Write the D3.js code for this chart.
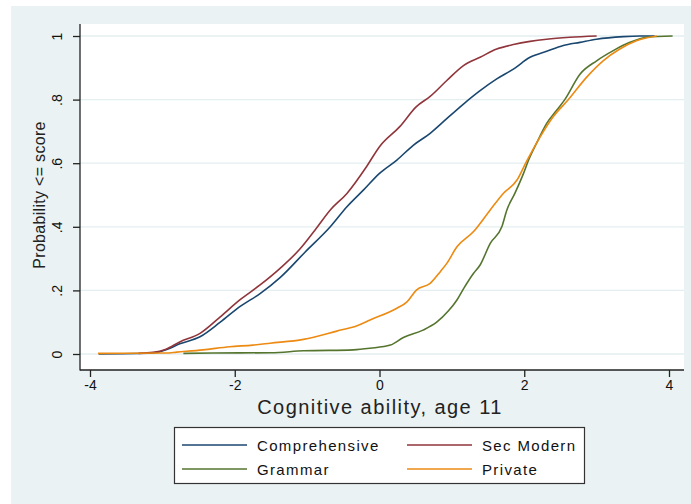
<!DOCTYPE html>
<html>
<head>
<meta charset="utf-8">
<script src="https://cdn.jsdelivr.net/npm/d3@7"></script>
<style>
  html, body { margin: 0; padding: 0; background: #ffffff; }
  svg { display: block; font-family: "Liberation Sans", Arial, sans-serif; }
</style>
</head>
<body>
<svg id="chart" width="691" height="504"></svg>
<script>
// Empirical cumulative distributions of age-11 cognitive ability by school type
const comprehensiveX = [-3.88, -3.13, -2.95, -2.76, -2.48, -2.20, -1.93, -1.65, -1.37, -1.03, -0.68, -0.45, -0.22, 0.00, 0.24, 0.47, 0.70, 0.86, 1.16, 1.39, 1.62, 1.85, 2.08, 2.31, 2.54, 2.77, 3.00, 3.37, 3.60, 3.80];
const comprehensiveP = [0.000, 0.003, 0.013, 0.032, 0.054, 0.100, 0.149, 0.190, 0.241, 0.320, 0.400, 0.463, 0.516, 0.568, 0.610, 0.657, 0.694, 0.726, 0.786, 0.828, 0.865, 0.896, 0.933, 0.952, 0.970, 0.980, 0.990, 0.998, 1.000, 1.000];

const secModernX = [-3.33, -3.13, -2.95, -2.76, -2.48, -2.20, -1.93, -1.65, -1.37, -1.10, -0.89, -0.68, -0.45, -0.18, 0.00, 0.28, 0.51, 0.70, 0.93, 1.16, 1.39, 1.62, 1.85, 2.08, 2.31, 2.63, 3.00];
const secModernP = [0.002, 0.005, 0.015, 0.038, 0.065, 0.117, 0.170, 0.217, 0.270, 0.330, 0.390, 0.453, 0.505, 0.589, 0.652, 0.715, 0.778, 0.810, 0.860, 0.907, 0.933, 0.959, 0.973, 0.983, 0.990, 0.996, 1.000];

const grammarX = [-2.71, -2.30, -1.50, -1.05, -0.36, -0.13, 0.15, 0.33, 0.60, 0.79, 0.95, 1.07, 1.16, 1.30, 1.39, 1.53, 1.69, 1.76, 1.87, 1.99, 2.06, 2.17, 2.31, 2.45, 2.56, 2.77, 3.00, 3.23, 3.46, 3.69, 4.05];
const grammarP = [0.002, 0.003, 0.004, 0.010, 0.013, 0.018, 0.028, 0.052, 0.075, 0.100, 0.135, 0.170, 0.205, 0.254, 0.280, 0.348, 0.400, 0.453, 0.505, 0.568, 0.610, 0.663, 0.725, 0.767, 0.800, 0.880, 0.922, 0.954, 0.980, 0.996, 1.000];

const privateX = [-3.89, -2.95, -2.80, -2.44, -2.07, -1.75, -1.51, -1.05, -0.59, -0.31, -0.13, 0.24, 0.38, 0.51, 0.70, 0.84, 0.93, 1.07, 1.30, 1.53, 1.71, 1.90, 2.03, 2.22, 2.40, 2.61, 2.86, 3.09, 3.32, 3.55, 3.83];
const privateP = [0.002, 0.003, 0.006, 0.013, 0.023, 0.028, 0.034, 0.046, 0.072, 0.089, 0.107, 0.144, 0.164, 0.201, 0.222, 0.259, 0.285, 0.337, 0.385, 0.453, 0.505, 0.547, 0.605, 0.683, 0.746, 0.800, 0.870, 0.922, 0.959, 0.985, 1.000];

const seriesNames = ["Comprehensive", "Sec Modern", "Grammar", "Private"];
const seriesColors = ["#1a476f", "#90353b", "#55752f", "#ec8a12"];

const xTicks = [-4, -2, 0, 2, 4];
const xTickLabels = ["-4", "-2", "0", "2", "4"];
const yTicks = [0, 0.2, 0.4, 0.6, 0.8, 1];
const yTickLabels = ["0", ".2", ".4", ".6", ".8", "1"];

const xTitle = "Cognitive ability, age 11";
const yTitle = "Probability <= score";

const seriesData = [
  d3.zip(comprehensiveX, comprehensiveP),
  d3.zip(secModernX, secModernP),
  d3.zip(grammarX, grammarP),
  d3.zip(privateX, privateP)
];

const svg = d3.select("#chart");
const W = 691, H = 504;

// Graph region background
svg.append("rect").attr("x", 11).attr("y", 6).attr("width", W - 11).attr("height", H - 6)
  .attr("fill", "#eaf2f3");

// Plot region
const plot = { left: 80, right: 684, top: 24, bottom: 370 };
svg.append("rect")
  .attr("x", plot.left).attr("y", plot.top)
  .attr("width", plot.right - plot.left).attr("height", plot.bottom - plot.top)
  .attr("fill", "#ffffff");

const x = d3.scaleLinear().domain([-4, 4]).range([90, 669]);
const y = d3.scaleLinear().domain([0, 1]).range([354, 36]);

// Horizontal grid lines
svg.append("g").selectAll("line").data(yTicks).join("line")
  .attr("x1", plot.left).attr("x2", plot.right)
  .attr("y1", d => y(d)).attr("y2", d => y(d))
  .attr("stroke", "#e4eef0").attr("stroke-width", 1.3);

// Curves
const line = d3.line().x(d => x(d[0])).y(d => y(d[1])).curve(d3.curveMonotoneX);
svg.append("g").selectAll("path").data(seriesData).join("path")
  .attr("d", line)
  .attr("fill", "none")
  .attr("stroke", (d, i) => seriesColors[i])
  .attr("stroke-width", 1.6)
  .attr("stroke-linejoin", "round");

// Axis lines
svg.append("line").attr("x1", plot.left).attr("x2", plot.left)
  .attr("y1", plot.top).attr("y2", plot.bottom + 0.5)
  .attr("stroke", "#222").attr("stroke-width", 1.3);
svg.append("line").attr("x1", plot.left).attr("x2", plot.right)
  .attr("y1", plot.bottom).attr("y2", plot.bottom)
  .attr("stroke", "#222").attr("stroke-width", 1.3);

// X axis ticks and labels
const xAxis = d3.axisBottom(x).tickValues(xTicks)
  .tickFormat((d, i) => xTickLabels[i]).tickSize(7).tickPadding(3);
const gx = svg.append("g").attr("transform", `translate(0,${plot.bottom})`).call(xAxis);
gx.select(".domain").remove();
gx.selectAll(".tick line").attr("stroke", "#222").attr("stroke-width", 1.3);
gx.selectAll(".tick text").attr("fill", "#111").attr("font-size", 14)
  .attr("font-family", "Liberation Sans, Arial, sans-serif");

// Y axis ticks and rotated labels
const yAxis = d3.axisLeft(y).tickValues(yTicks)
  .tickFormat((d, i) => yTickLabels[i]).tickSize(7);
const gy = svg.append("g").attr("transform", `translate(${plot.left},0)`).call(yAxis);
gy.select(".domain").remove();
gy.selectAll(".tick line").attr("stroke", "#222").attr("stroke-width", 1.3);
gy.selectAll(".tick text")
  .attr("fill", "#111").attr("font-size", 14)
  .attr("font-family", "Liberation Sans, Arial, sans-serif")
  .attr("x", null).attr("dy", null)
  .attr("text-anchor", "middle")
  .attr("transform", "translate(-18,0) rotate(-90)");

// Axis titles
svg.append("text").attr("x", 380).attr("y", 414)
  .attr("text-anchor", "middle").attr("font-size", 20)
  .attr("letter-spacing", 1.45).attr("fill", "#222")
  .text(xTitle);
svg.append("text")
  .attr("transform", "translate(45,195) rotate(-90)")
  .attr("text-anchor", "middle").attr("font-size", 16)
  .attr("letter-spacing", 0.3).attr("fill", "#222")
  .text(yTitle);

// Legend
const legend = svg.append("g");
legend.append("rect").attr("x", 174.5).attr("y", 427.5).attr("width", 410).attr("height", 56)
  .attr("fill", "#ffffff").attr("stroke", "#333").attr("stroke-width", 1.2);
const legendPos = [
  { lx: 182, ty: 445 }, { lx: 407, ty: 445 },
  { lx: 182, ty: 469 }, { lx: 407, ty: 469 }
];
seriesNames.forEach((name, i) => {
  const p = legendPos[i];
  legend.append("line").attr("x1", p.lx).attr("x2", p.lx + 65)
    .attr("y1", p.ty).attr("y2", p.ty)
    .attr("stroke", seriesColors[i]).attr("stroke-width", 1.6);
  legend.append("text").attr("x", p.lx + 75).attr("y", p.ty + 5.5)
    .attr("font-size", 15).attr("letter-spacing", 1.35).attr("fill", "#111")
    .text(name);
});
</script>
</body>
</html>
